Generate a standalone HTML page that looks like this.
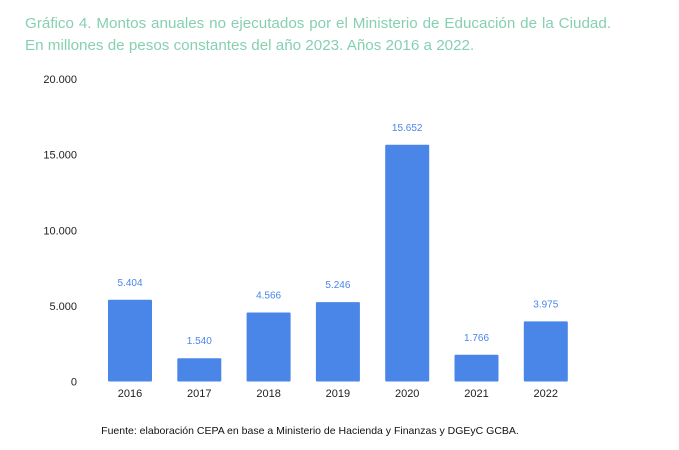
<!DOCTYPE html>
<html><head><meta charset="utf-8"><style>
body{margin:0;background:#fff;width:679px;height:450px;overflow:hidden;font-family:"Liberation Sans",sans-serif}
#title{position:absolute;left:25px;top:13px;width:586px;font-size:15.2px;line-height:22px;color:#86d0b1;text-align:justify;text-align-last:left}
#src{position:absolute;left:0;width:620px;top:425px;text-align:center;font-size:10.5px;color:#111}
</style></head><body>
<div id="title">Gráfico 4. Montos anuales no ejecutados por el Ministerio de Educación de la Ciudad. En millones de pesos constantes del año 2023. Años 2016 a 2022.</div>
<svg id="chart" width="679" height="450" style="position:absolute;left:0;top:0"></svg>
<div id="src">Fuente: elaboración CEPA en base a Ministerio de Hacienda y Finanzas y DGEyC GCBA.</div>
<script>
const categories=["2016","2017","2018","2019","2020","2021","2022"];
const values=[5404,1540,4566,5246,15652,1766,3975];
const valueLabels=["5.404","1.540","4.566","5.246","15.652","1.766","3.975"];
const yTicks=[0,5000,10000,15000,20000];
const yTickLabels=["0","5.000","10.000","15.000","20.000"];
const NS="http://www.w3.org/2000/svg";
const svg=document.getElementById('chart');
const y0=381.5,yTop=79,ymax=20000;
const y=v=>y0-(v/ymax)*(y0-yTop);
const x0=130,step=69.3,bw=44;
const x=i=>x0+i*step;
function mk(t,a){const e=document.createElementNS(NS,t);for(const k in a)e.setAttribute(k,a[k]);svg.appendChild(e);return e;}
yTicks.forEach((v,i)=>{
 const t=mk('text',{x:77,y:y(v)+4,'text-anchor':'end','font-size':11,fill:'#222'});
 
 
 t.textContent=yTickLabels[i];
});
categories.forEach((c,i)=>{
 const r=mk('rect',{x:x(i)-bw/2,y:y(values[i]),width:bw,height:y0-y(values[i]),fill:'#4a86e8',rx:1});
 
 
 const vl=mk('text',{x:x(i),y:y(values[i])-14,'text-anchor':'middle','font-size':10,fill:'#4a86e8'});
 
 
 vl.textContent=valueLabels[i];
 const xl=mk('text',{x:x(i),y:397,'text-anchor':'middle','font-size':11,fill:'#222'});
 
 
 xl.textContent=c;
});
</script>
</body></html>
